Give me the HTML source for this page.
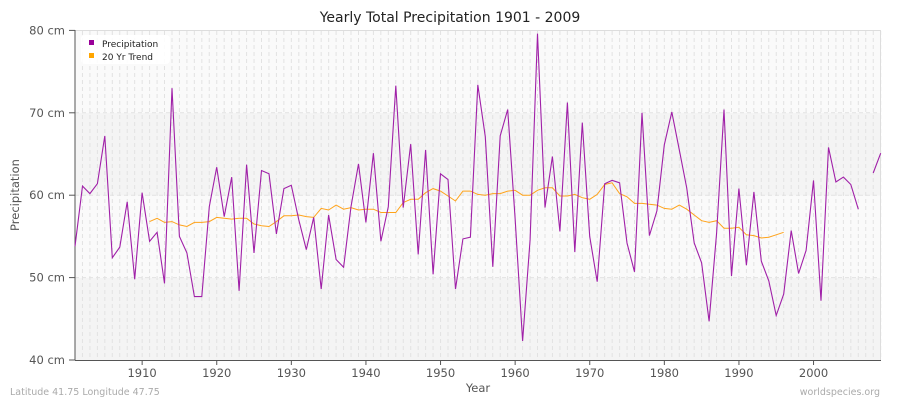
<!DOCTYPE html>
<html><head><meta charset="utf-8"><style>
body{margin:0;background:#fff;font-family:"DejaVu Sans",sans-serif}
svg text{font-family:"DejaVu Sans",sans-serif}
</style></head><body>
<svg id="s" width="900" height="400" xmlns="http://www.w3.org/2000/svg"></svg>
<script>
const P=[53.8,61.1,60.2,61.4,67.2,52.4,53.7,59.2,49.8,60.3,54.4,55.5,49.3,73.0,55.0,53.0,47.7,47.7,58.6,63.4,57.4,62.2,48.4,63.7,53.0,63.0,62.6,55.3,60.8,61.2,57.0,53.4,57.3,48.6,57.6,52.2,
51.25,58.6,63.8,56.7,65.1,54.4,58.6,73.3,58.5,66.2,52.8,65.5,50.4,62.6,61.9,48.6,54.7,54.9,73.4,67.1,51.3,67.2,70.4,57.2,42.3,54.6,79.6,58.5,64.7,55.6,71.25,53.1,68.8,55.0,49.5,61.4,
61.8,61.5,54.2,50.7,70,55.1,58.1,66.1,70.1,65.5,60.9,54.2,51.8,44.7,55.4,70.4,50.2,60.8,51.5,60.4,52,49.6,45.4,48.0,55.7,50.5,53.3,61.8,47.2,65.8,61.6,62.2,61.3,58.3,null,62.7,65.1];
const T={1911:56.8,1912:57.2,1913:56.7,1914:56.8,1915:56.4,1916:56.2,1917:56.7,1918:56.7,1919:56.8,1920:57.3,1921:57.2,1922:57.1,1923:57.2,1924:57.2,1925:56.5,1926:56.3,1927:56.2,1928:56.8,1929:57.5,1930:57.5,1931:57.6,1932:57.4,1933:57.3,1934:58.4,1935:58.2,1936:58.8,
1937:58.3,1938:58.5,1939:58.2,1940:58.3,1941:58.3,1942:57.9,1943:57.9,1944:57.9,1945:59.1,1946:59.5,1947:59.5,1948:60.3,1949:60.8,1950:60.5,1951:59.9,1952:59.3,1953:60.5,1954:60.5,1955:60.1,1956:60.0,1957:60.2,1958:60.2,1959:60.5,1960:60.6,1961:60,1962:60,1963:60.6,1964:60.9,1965:60.9,1966:59.9,1967:59.9,1968:60.1,1969:59.7,1970:59.5,1971:60.1,1972:61.3,
1973:61.5,1974:60.2,1975:59.8,1976:59.0,1977:59.0,1978:58.9,1979:58.8,1980:58.4,1981:58.3,1982:58.8,1983:58.3,1984:57.6,1985:56.9,1986:56.7,1987:56.9,1988:56.0,1989:56.0,1990:56.1,1991:55.2,1992:55.1,1993:54.8,1994:54.9,1995:55.2,1996:55.5};
const X=y=>75+(y-1901)*7.46, Y=v=>360-(v-40)*8.24;
let h='';
h+=`<rect x="75" y="30.5" width="806" height="330" fill="#f4f4f4"/>`;
h+=`<rect x="75" y="30.5" width="806" height="82.5" fill="#fafafa"/>`;
h+=`<rect x="75" y="195.5" width="806" height="82.5" fill="#fafafa"/>`;
for(let y=1902;y<=2009;y++)h+=`<line x1="${X(y)}" y1="31" x2="${X(y)}" y2="360" stroke="#e2e2e2" stroke-width="1" stroke-dasharray="4,3"/>`;
for(const v of [50,60,70])h+=`<line x1="75" y1="${Y(v)}" x2="881" y2="${Y(v)}" stroke="#e2e2e2" stroke-dasharray="4,3"/>`;
h+=`<line x1="75" y1="30.5" x2="881" y2="30.5" stroke="#ddd"/><line x1="880.5" y1="30" x2="880.5" y2="360" stroke="#ddd"/>`;
h+=`<line x1="75" y1="30" x2="75" y2="360.5" stroke="#555"/><line x1="75" y1="360.5" x2="881" y2="360.5" stroke="#555"/>`;
for(const v of [40,50,60,70,80]){h+=`<line x1="69" y1="${Y(v)}" x2="75" y2="${Y(v)}" stroke="#555"/><text x="65" y="${Y(v)+4}" text-anchor="end" font-size="11.5" fill="#555">${v} cm</text>`;}
for(let y=1910;y<=2000;y+=10){h+=`<line x1="${X(y)}" y1="360" x2="${X(y)}" y2="365" stroke="#555"/><text x="${X(y)}" y="377" text-anchor="middle" font-size="11.5" fill="#555">${y}</text>`;}
let d='',pen=false;P.forEach((v,i)=>{if(v==null){pen=false;return;}d+=(pen?'L':'M')+X(1901+i).toFixed(1)+','+Y(v).toFixed(1);pen=true;});
let t='';Object.keys(T).forEach((k,i)=>{t+=(i?'L':'M')+X(+k).toFixed(1)+','+Y(T[k]).toFixed(1);});
h+=`<path d="${t}" fill="none" stroke="#ffa31a" stroke-width="1"/>`;
h+=`<path d="${d}" fill="none" stroke="#a020a8" stroke-width="1.1"/>`;
h+=`<rect x="81" y="35" width="89" height="29" rx="4" fill="#fff" opacity="0.9"/>`;
h+=`<rect x="89" y="40" width="5" height="5" fill="#990099"/><text x="102" y="47" font-size="9" fill="#222">Precipitation</text>`;
h+=`<rect x="89" y="53" width="5" height="5" fill="#ffa500"/><text x="102" y="60" font-size="9" fill="#222">20 Yr Trend</text>`;
h+=`<text x="450" y="22" text-anchor="middle" font-size="14" fill="#222">Yearly Total Precipitation 1901 - 2009</text>`;
h+=`<text x="478" y="392" text-anchor="middle" font-size="11.5" fill="#555">Year</text>`;
h+=`<text x="19" y="195" text-anchor="middle" font-size="11.5" fill="#555" transform="rotate(-90 19 195)">Precipitation</text>`;
h+=`<text x="10" y="395" font-size="9.5" fill="#aaa">Latitude 41.75 Longitude 47.75</text>`;
h+=`<text x="880" y="395" text-anchor="end" font-size="9.5" fill="#aaa">worldspecies.org</text>`;
document.getElementById('s').innerHTML=h;
</script>
</body></html>
